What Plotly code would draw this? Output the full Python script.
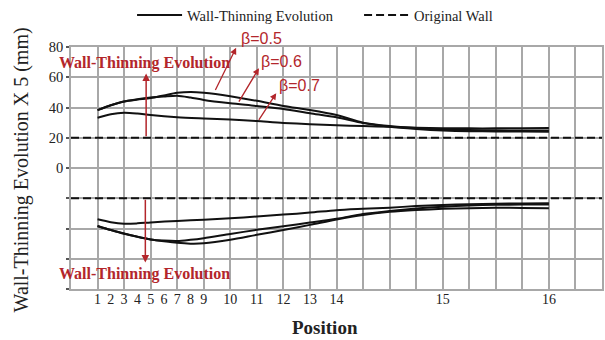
import plotly.graph_objects as go

# ---------------- data (x in chart grid units; labels below) ----------------
pos_tick_vals = [1, 1.5, 2, 2.5, 3, 3.5, 4, 4.5, 5, 6, 7, 8, 9, 10, 14, 18]
pos_tick_text = ["1", "2", "3", "4", "5", "6", "7", "8", "9", "10", "11", "12", "13", "14", "15", "16"]

x_up_a = [1, 1.5, 2, 2.5, 3, 3.5, 4, 4.5, 5, 6, 7, 8, 9, 10, 11, 12, 13, 14, 15, 16, 17, 18]
beta05_up = [38.3, 41.5, 44, 45.2, 46.2, 48, 49.7, 50.3, 49.8, 47.5, 44.4, 41, 38.3, 35, 30, 27.7, 26.4, 25.5, 25.1, 24.9, 24.8, 24.8]
beta06_up = [38.3, 41.5, 44, 45.5, 46.6, 47.3, 47.8, 46.6, 45, 42.8, 41, 39, 36.2, 33.5, 29.7, 27.2, 25.8, 24.8, 24.3, 24.2, 24.1, 24.0]

x_up_b = [1, 1.5, 2, 2.5, 3, 4, 5, 6, 7, 8, 9, 10, 11, 12, 13, 14, 15, 16, 17, 18]
beta07_up = [33.2, 35.5, 36.5, 36, 35, 33.6, 32.8, 32.1, 31, 29.8, 29, 28.3, 27.7, 27.2, 26.6, 26.3, 26.2, 26.2, 26.3, 26.4]

x_lo_a = [1, 1.5, 2, 2.5, 3, 4, 5, 6, 7, 8, 9, 10, 11, 12, 13, 14, 15, 16, 17, 18]
beta07_lo = [-33.9, -35.8, -36.8, -36.6, -36, -35, -34.2, -33.2, -32.1, -30.8, -29.5, -27.9, -27, -26.2, -25.2, -24.4, -24, -23.6, -23.4, -23.3]

x_lo_b = [1, 1.5, 2, 2.5, 3, 3.5, 4, 4.5, 5, 6, 7, 8, 9, 10, 11, 12, 13, 14, 15, 16, 17, 18]
beta06_lo = [-38.3, -41, -43.3, -45.5, -47.2, -48, -48.3, -47.5, -46.4, -43.6, -40.9, -38.5, -36.1, -33.6, -30.4, -28.4, -26.8, -25.6, -24.8, -24.3, -24.2, -24.2]
beta05_lo = [-38.3, -41, -43.5, -45.5, -47.3, -48.5, -49.5, -50, -49.8, -47.5, -44.2, -41, -37.6, -34, -31, -29, -27.8, -27, -26.6, -26.3, -26.4, -26.6]

wall_x = [0, 20]
wall_upper = [20, 20]
wall_lower = [-20, -20]

y_tick_vals = [-80, -60, -40, -20, 0, 20, 40, 60, 80]
y_tick_text = ["", "", "", "", "0", "20", "40", "60", "80"]

RED = "#b3262b"
SERIF = "Liberation Serif"

fig = go.Figure()

curves = [(x_up_a, beta05_up), (x_up_a, beta06_up), (x_up_b, beta07_up),
          (x_lo_a, beta07_lo), (x_lo_b, beta06_lo), (x_lo_b, beta05_lo)]
for i, (xs, ys) in enumerate(curves):
    fig.add_trace(go.Scatter(
        x=xs, y=ys, mode="lines", line=dict(color="#111111", width=2, shape="spline", smoothing=0.8),
        name="Wall-Thinning Evolution", legendgroup="wte", showlegend=(i == 0)))

for i, ys in enumerate([wall_upper, wall_lower]):
    fig.add_trace(go.Scatter(
        x=wall_x, y=ys, mode="lines", xaxis="x2",
        line=dict(color="#111111", width=2, dash="8px,4px"),
        name="Original Wall", legendgroup="ow", showlegend=(i == 0)))

grid_c = "#a8a8a8"
fig.update_layout(
    width=605, height=340,
    margin=dict(l=71, r=3, t=47, b=51, autoexpand=False),
    plot_bgcolor="white", paper_bgcolor="white",
    font=dict(family=SERIF, color="#222222"),
    xaxis=dict(range=[0, 20], tickmode="linear", tick0=0, dtick=1, showgrid=True,
               gridcolor=grid_c, gridwidth=1.5, showticklabels=False, ticks="",
               showline=True, mirror=True, linecolor=grid_c, linewidth=1.5, zeroline=False),
    xaxis2=dict(range=[0, 20], overlaying="x", anchor="y", side="bottom",
                tickmode="array", tickvals=pos_tick_vals, ticktext=pos_tick_text,
                showgrid=False, ticks="", zeroline=False,
                tickfont=dict(family=SERIF, size=14, color="#222222")),
    yaxis=dict(range=[-80, 80], tickmode="array", tickvals=y_tick_vals, ticktext=y_tick_text,
               showgrid=True, gridcolor=grid_c, gridwidth=1.5, zeroline=False,
               ticks="outside", ticklen=3, tickcolor="#555555", tickwidth=1.5,
               showline=True, mirror=True, linecolor=grid_c, linewidth=1.5,
               tickfont=dict(family=SERIF, size=14.5, color="#222222")),
    legend=dict(orientation="h", x=0.115, y=0.956, xref="paper", yref="container",
                xanchor="left", yanchor="middle", itemwidth=45,
                font=dict(family=SERIF, size=14.5, color="#222222"),
                bgcolor="rgba(0,0,0,0)", entrywidth=167, entrywidthmode="pixels"),
    showlegend=True,
)

# axis titles as annotations
fig.add_annotation(text="Wall-Thinning Evolution X 5 (mm)", xref="paper", yref="paper",
                   x=-0.0933, y=0.492, xanchor="center", yanchor="middle",
                   textangle=-90, showarrow=False,
                   font=dict(family=SERIF, size=20, color="#222222"))
fig.add_annotation(text="<b>Position</b>", xref="paper", yref="paper",
                   x=0.478, y=-0.161, xanchor="center", yanchor="middle", showarrow=False,
                   font=dict(family=SERIF, size=19, color="#222222"))

# red evolution labels and arrows
fig.add_annotation(text="<b>Wall-Thinning Evolution</b>", x=2.77, y=69.5, showarrow=False,
                   xanchor="center", yanchor="middle",
                   font=dict(family=SERIF, size=16, color=RED))
fig.add_annotation(text="<b>Wall-Thinning Evolution</b>", x=2.77, y=-70.4, showarrow=False,
                   xanchor="center", yanchor="middle",
                   font=dict(family=SERIF, size=16, color=RED))
fig.add_annotation(text="", x=2.83, y=62.5, ax=2.83, ay=20, axref="x", ayref="y",
                   showarrow=True, arrowhead=2, arrowsize=1, arrowwidth=1.5, arrowcolor=RED)
fig.add_annotation(text="", x=2.8, y=-62.5, ax=2.8, ay=-20, axref="x", ayref="y",
                   showarrow=True, arrowhead=2, arrowsize=1, arrowwidth=1.5, arrowcolor=RED)

# beta labels: (text, text x, text y in paper, head x, head y, tail x, tail y)
betas = [("β=0.5", 7.18, 1.037, 6.22, 79.5, 5.41, 50.6),
         ("β=0.6", 7.93, 0.942, 7.08, 66, 6.29, 42.9),
         ("β=0.7", 8.61, 0.84, 7.73, 49.5, 7.04, 30.8)]
for txt, tx, ty, hx, hy, sx, sy in betas:
    fig.add_annotation(text=txt, x=tx, y=ty, xref="x", yref="paper", showarrow=False,
                       xanchor="center", yanchor="middle",
                       font=dict(family="Liberation Sans", size=16, color=RED))
    fig.add_annotation(text="", x=hx, y=hy, ax=sx, ay=sy, axref="x", ayref="y",
                       showarrow=True, arrowhead=2, arrowsize=1, arrowwidth=1.3, arrowcolor=RED)

fig.write_html("out.html")
